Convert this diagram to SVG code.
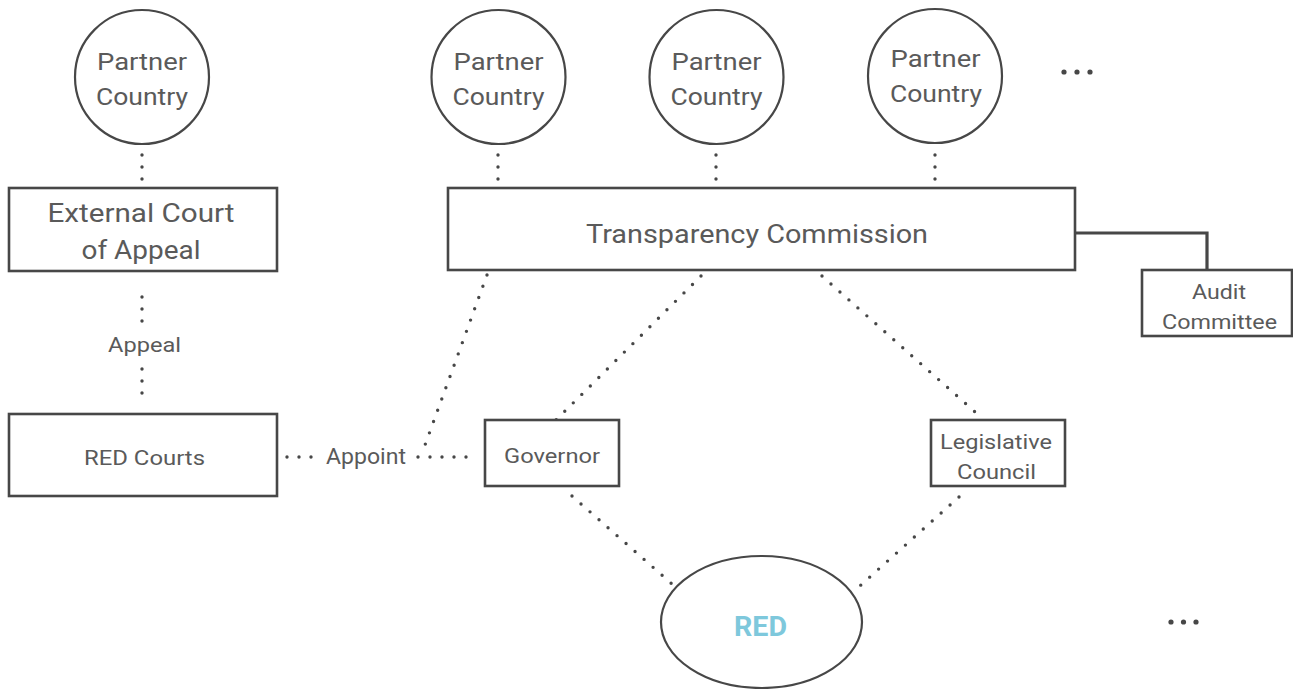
<svg xmlns="http://www.w3.org/2000/svg" width="1293" height="689" viewBox="0 0 1293 689">
  <style>
    .box { fill: #ffffff; stroke: #474747; stroke-width: 2.6; }
    .ring { fill: #ffffff; stroke: #474747; stroke-width: 2.2; }
    .lbl { font-family: "Roboto", "Liberation Sans", sans-serif; fill: #5a5a5a; text-anchor: middle; }
    .dots { fill: none; stroke: #474747; stroke-width: 3.4; stroke-linecap: round; stroke-dasharray: 0 12; }
    .solid { fill: none; stroke: #474747; stroke-width: 3.2; }
    .ell { fill: #474747; }
  </style>
  <rect width="1293" height="689" fill="#ffffff"/>

  <!-- connectors -->
  <g id="connectors">
    <!-- partner countries down to their bodies -->
    <line class="dots" x1="142" y1="155" x2="142" y2="180"/>
    <line class="dots" x1="498" y1="155" x2="498" y2="180"/>
    <line class="dots" x1="716" y1="155" x2="716" y2="180"/>
    <line class="dots" x1="935" y1="155" x2="935" y2="180"/>
    <!-- appeal route -->
    <line class="dots" x1="142" y1="297" x2="142" y2="322"/>
    <line class="dots" x1="142" y1="369" x2="142" y2="394"/>
    <!-- appointments -->
    <line class="dots" x1="287" y1="457" x2="312" y2="457"/>
    <line class="dots" x1="418" y1="457" x2="468" y2="457"/>
    <line class="dots" x1="487" y1="275" x2="425" y2="445"/>
    <!-- commission to governor and council -->
    <line class="dots" x1="701" y1="276" x2="556" y2="420"/>
    <line class="dots" x1="822" y1="276" x2="983" y2="419"/>
    <!-- governor and council to RED -->
    <line class="dots" x1="572" y1="496" x2="672" y2="584"/>
    <line class="dots" x1="959" y1="497" x2="852" y2="593"/>
    <!-- commission to audit committee -->
    <polyline class="solid" points="1075,233 1207,233 1207,270"/>
  </g>

  <g id="partner-1">
    <circle class="ring" cx="142" cy="77" r="67"/>
    <text class="lbl" x="142" y="70" font-size="24" textLength="90" lengthAdjust="spacingAndGlyphs">Partner</text>
    <text class="lbl" x="142" y="105" font-size="24" textLength="92" lengthAdjust="spacingAndGlyphs">Country</text>
  </g>
  <g id="partner-2">
    <circle class="ring" cx="498.5" cy="77" r="67"/>
    <text class="lbl" x="498.5" y="70" font-size="24" textLength="90" lengthAdjust="spacingAndGlyphs">Partner</text>
    <text class="lbl" x="498.5" y="105" font-size="24" textLength="92" lengthAdjust="spacingAndGlyphs">Country</text>
  </g>
  <g id="partner-3">
    <circle class="ring" cx="716.5" cy="77" r="67"/>
    <text class="lbl" x="716.5" y="70" font-size="24" textLength="90" lengthAdjust="spacingAndGlyphs">Partner</text>
    <text class="lbl" x="716.5" y="105" font-size="24" textLength="92" lengthAdjust="spacingAndGlyphs">Country</text>
  </g>
  <g id="partner-4">
    <circle class="ring" cx="935" cy="76" r="67"/>
    <text class="lbl" x="935.5" y="67" font-size="24" textLength="90" lengthAdjust="spacingAndGlyphs">Partner</text>
    <text class="lbl" x="936" y="102" font-size="24" textLength="92" lengthAdjust="spacingAndGlyphs">Country</text>
  </g>
  <g id="more-partners">
    <circle class="ell" cx="1064" cy="72" r="2.6"/>
    <circle class="ell" cx="1077" cy="72" r="2.6"/>
    <circle class="ell" cx="1090" cy="72" r="2.6"/>
  </g>

  <g id="external-court">
    <rect class="box" x="9" y="188" width="268" height="83"/>
    <text class="lbl" x="141" y="222" font-size="26" textLength="187" lengthAdjust="spacingAndGlyphs">External Court</text>
    <text class="lbl" x="141" y="259" font-size="26" textLength="119" lengthAdjust="spacingAndGlyphs">of Appeal</text>
  </g>

  <g id="appeal-label">
    <text class="lbl" x="144.5" y="352" font-size="20" textLength="73" lengthAdjust="spacingAndGlyphs">Appeal</text>
  </g>

  <g id="red-courts">
    <rect class="box" x="9" y="414" width="268" height="82"/>
    <text class="lbl" x="144.5" y="465" font-size="21" textLength="121" lengthAdjust="spacingAndGlyphs">RED Courts</text>
  </g>

  <g id="appoint-label">
    <text class="lbl" x="366" y="464" font-size="22" textLength="80" lengthAdjust="spacingAndGlyphs">Appoint</text>
  </g>

  <g id="transparency-commission">
    <rect class="box" x="448" y="188" width="627" height="82"/>
    <text class="lbl" x="757" y="243" font-size="26" textLength="342" lengthAdjust="spacingAndGlyphs">Transparency Commission</text>
  </g>

  <g id="audit-committee">
    <rect class="box" x="1142" y="270" width="150" height="66"/>
    <text class="lbl" x="1219" y="299" font-size="20" textLength="54" lengthAdjust="spacingAndGlyphs">Audit</text>
    <text class="lbl" x="1219.5" y="329" font-size="20" textLength="115" lengthAdjust="spacingAndGlyphs">Committee</text>
  </g>

  <g id="governor">
    <rect class="box" x="485" y="420" width="134" height="66"/>
    <text class="lbl" x="552" y="463" font-size="21" textLength="96" lengthAdjust="spacingAndGlyphs">Governor</text>
  </g>

  <g id="legislative-council">
    <rect class="box" x="931" y="420" width="134" height="66"/>
    <text class="lbl" x="996" y="449" font-size="21" textLength="112" lengthAdjust="spacingAndGlyphs">Legislative</text>
    <text class="lbl" x="996.5" y="479" font-size="21" textLength="79" lengthAdjust="spacingAndGlyphs">Council</text>
  </g>

  <g id="red">
    <ellipse class="ring" cx="761.5" cy="622" rx="100.5" ry="66"/>
    <text class="lbl" x="760.5" y="636" font-size="28" font-weight="bold" fill="#7ec8dc" style="fill:#7ec8dc" textLength="53" lengthAdjust="spacingAndGlyphs">RED</text>
  </g>

  <g id="more-regions">
    <circle class="ell" cx="1171" cy="622" r="2.6"/>
    <circle class="ell" cx="1183.5" cy="622" r="2.6"/>
    <circle class="ell" cx="1196" cy="622" r="2.6"/>
  </g>
</svg>
